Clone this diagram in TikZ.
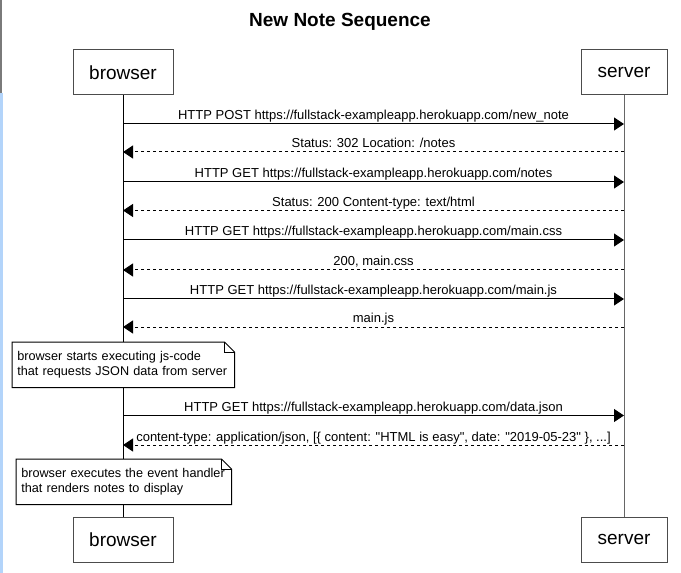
\documentclass[tikz,border=0pt]{standalone}
\usepackage{fontspec}
\setmainfont{Liberation Sans}[Ligatures=TeXOff]
\usetikzlibrary{arrows.meta,calc}
\definecolor{edgeblue}{HTML}{B3D4FA}
\definecolor{edgegray}{HTML}{7A7A7A}
\begin{document}
\begin{tikzpicture}[x=0.75pt,y=-0.75pt,
  actor/.style={draw=black!70, fill=white, line width=0.75pt, inner sep=0pt,
    minimum height=33.75pt, font=\fontsize{14.25}{16}\selectfont},
  life/.style={line width=0.75pt},
  msg/.style={line width=0.75pt, -{Triangle[length=7.5pt,width=9.75pt]}},
  reply/.style={msg, dash pattern=on 2.25pt off 2.25pt},
  lbl/.style={font=\fontsize{9.75}{11}\selectfont, anchor=base, inner sep=0pt, yshift=3pt},
  notebox/.style={fill=white, inner xsep=3.75pt, inner ysep=0pt, anchor=north west,
    minimum height=33.75pt, align=left, font=\fontsize{9.5}{11}\selectfont},
  noteline/.style={draw=black, line width=0.75pt},
  titlefont/.style={font=\bfseries\fontsize{14.25}{16}\selectfont, anchor=base, inner sep=0pt}
]
\useasboundingbox (0,0) rectangle (681,573);
% screenshot edge
\fill[edgegray] (0,0) rectangle (2,93);
\fill[edgeblue] (0,93) rectangle (2.5,573);

\node[titlefont] (title) at (340,27) {New Note Sequence};

\node[actor, minimum width=75pt]   (bt) at (123,72.5) {browser};
\node[actor, minimum width=64.5pt] (st) at (624,72.5) {server};
\node[actor, minimum width=75pt]   (bb) at (123,539.5) {browser};
\node[actor, minimum width=64.5pt] (sb) at (624,539.5) {server};

\draw[life] (bt.south) -- (bb.north);
\draw[life, black!60] (st.south) -- (sb.north);

% message end points
\foreach \i/\y in {1/124,2/152,3/182,4/210.5,5/240,6/270,7/299,8/327,9/415.5,10/445}{
  \coordinate (b\i) at (123,\y);
  \coordinate (s\i) at (624,\y);
}

\draw[msg]   (b1) -- node[lbl]{HTTP POST https://fullstack-exampleapp.herokuapp.com/new\_note} (s1);
\draw[reply] (s2) -- node[lbl]{Status: 302 Location: /notes} (b2);
\draw[msg]   (b3) -- node[lbl]{HTTP GET https://fullstack-exampleapp.herokuapp.com/notes} (s3);
\draw[reply] (s4) -- node[lbl]{Status: 200 Content-type: text/html} (b4);
\draw[msg]   (b5) -- node[lbl]{HTTP GET https://fullstack-exampleapp.herokuapp.com/main.css} (s5);
\draw[reply] (s6) -- node[lbl]{200, main.css} (b6);
\draw[msg]   (b7) -- node[lbl]{HTTP GET https://fullstack-exampleapp.herokuapp.com/main.js} (s7);
\draw[reply] (s8) -- node[lbl]{main.js} (b8);
\draw[msg]   (b9) -- node[lbl]{HTTP GET https://fullstack-exampleapp.herokuapp.com/data.json} (s9);
\draw[reply] (s10) -- node[lbl]{content-type: application/json, [\{ content: "HTML is easy", date: "2019-05-23" \}, ...]} (b10);

% notes
\node[notebox, minimum width=166.5pt, text width=159pt] (n1) at (12,342)
  {\mbox{browser starts executing js-code}\\\mbox{that requests JSON data from server}};
\draw[noteline] (n1.north west) -- ([xshift=-7.5pt]n1.north east) -- ([yshift=-7.5pt]n1.north east)
  -- (n1.south east) -- (n1.south west) -- cycle;
\draw[noteline] ([xshift=-7.5pt]n1.north east) |- ([yshift=-7.5pt]n1.north east);

\node[notebox, minimum width=161.25pt, text width=153.75pt] (n2) at (16,459)
  {\mbox{browser executes the event handler}\\\mbox{that renders notes to display}};
\draw[noteline] (n2.north west) -- ([xshift=-7.5pt]n2.north east) -- ([yshift=-7.5pt]n2.north east)
  -- (n2.south east) -- (n2.south west) -- cycle;
\draw[noteline] ([xshift=-7.5pt]n2.north east) |- ([yshift=-7.5pt]n2.north east);
\end{tikzpicture}
\end{document}
